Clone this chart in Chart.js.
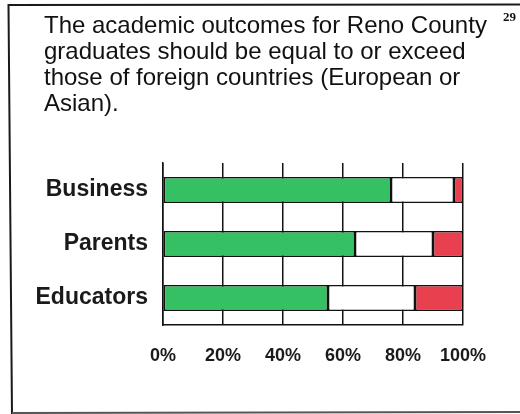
<!DOCTYPE html>
<html>
<head>
<meta charset="utf-8">
<title>Reno County survey</title>
<script src="https://cdn.jsdelivr.net/npm/chart.js@4.4.1/dist/chart.umd.min.js"></script>
<style>
  html, body { margin: 0; padding: 0; background: #fff; }
  canvas { display: block; }
</style>
</head>
<body>
<canvas id="outcomes" width="520" height="414"></canvas>
<script>
// survey groups and their answer shares (percent)
var groups = ["Business", "Parents", "Educators"];
var agree = [76, 64, 55];
var neutral = [21, 26, 29];
var disagree = [3, 10, 16];

var xTicks = [0, 20, 40, 60, 80, 100];

var titleLines = [
  "The academic outcomes for Reno County",
  "graduates should be equal to or exceed",
  "those of foreign countries (European or",
  "Asian)."
];
var pageNo = "29";

/* slide frame, heading and page number */
var slidePlugin = {
  id: "slide",
  beforeDraw: function(chart) {
    var ctx = chart.ctx;
    ctx.save();
    ctx.fillStyle = "#fff";
    ctx.fillRect(0, 0, chart.width, chart.height);
    ctx.strokeStyle = "#1a1a1a";
    ctx.lineWidth = 2;
    ctx.beginPath();
    ctx.moveTo(12, 414);
    ctx.lineTo(8.5, 5);
    ctx.lineTo(520, 4.5);
    ctx.stroke();
    ctx.strokeStyle = "#555";
    ctx.beginPath();
    ctx.moveTo(12, 413);
    ctx.lineTo(520, 412);
    ctx.stroke();

    ctx.fillStyle = "#111";
    ctx.font = "24px 'Liberation Sans', Arial, sans-serif";
    ctx.textBaseline = "alphabetic";
    ctx.textAlign = "left";
    for (var i = 0; i < titleLines.length; i++) {
      ctx.fillText(titleLines[i], 44, 33 + i * 26);
    }
    ctx.font = "bold 13px 'Liberation Serif', 'Times New Roman', serif";
    ctx.fillText(pageNo, 503, 21);
    ctx.restore();
  }
};

var ctx = document.getElementById("outcomes");
var chartData = {
  labels: groups,
  datasets: [
    { label: "Agree", data: agree, backgroundColor: "#35c063" },
    { label: "Neutral", data: neutral, backgroundColor: "#ffffff" },
    { label: "Disagree", data: disagree, backgroundColor: "#e8404f" }
  ]
};

var outcomesChart = new Chart(ctx, {
  type: "bar",
  data: chartData,
  plugins: [slidePlugin],
  options: {
    responsive: false,
    animation: false,
    indexAxis: "y",
    layout: { padding: { left: 0, right: 57, top: 163, bottom: 0 } },
    datasets: {
      bar: {
        borderColor: "#111",
        borderWidth: 1.5,
        borderSkipped: false,
        categoryPercentage: 1,
        barPercentage: 0.48
      }
    },
    plugins: {
      legend: { display: false },
      title: { display: false },
      tooltip: { enabled: false }
    },
    scales: {
      x: {
        stacked: true,
        min: 0,
        max: 100,
        afterBuildTicks: function(scale) {
          scale.ticks = xTicks.map(function(v) { return { value: v }; });
        },
        afterFit: function(scale) { scale.height = 89; },
        grid: { color: "#111", lineWidth: 1.5, drawTicks: false },
        border: { display: true, color: "#111", width: 1.5 },
        ticks: {
          padding: 20,
          color: "#1a1a1a",
          font: { family: "'Liberation Sans', Arial, sans-serif", size: 18, weight: "bold" },
          callback: function(v) { return v + "%"; }
        }
      },
      y: {
        stacked: true,
        afterFit: function(scale) { scale.width = 163; },
        grid: { display: false, drawTicks: false },
        border: { display: true, color: "#111", width: 1.5 },
        ticks: {
          padding: 15,
          color: "#1a1a1a",
          font: { family: "'Liberation Sans', Arial, sans-serif", size: 23, weight: "bold" }
        }
      }
    }
  }
});
</script>
</body>
</html>
